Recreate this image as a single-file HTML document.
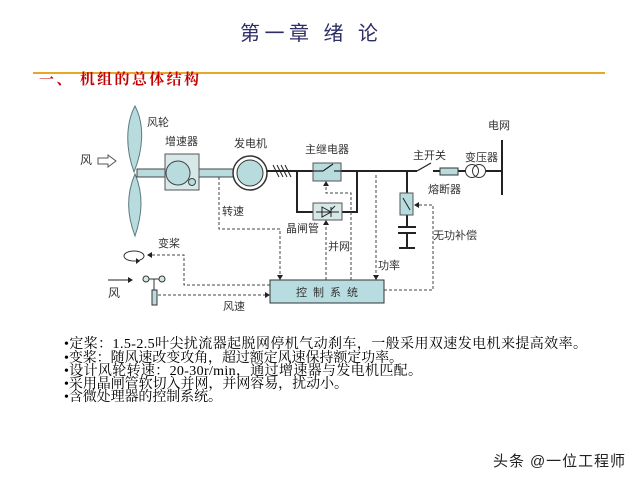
<!DOCTYPE html>
<html><head><meta charset="utf-8"><style>
html,body{margin:0;padding:0;background:#fff;}
svg{display:block;}
</style></head><body>
<svg width="640" height="480" viewBox="0 0 640 480" xmlns="http://www.w3.org/2000/svg">
<rect width="640" height="480" fill="#fff"/>
<!-- Title -->
<text x="240" y="40" font-family="Liberation Sans, Noto Sans CJK SC, sans-serif" font-size="20" fill="#2e2e66" textLength="138" lengthAdjust="spacing">第一章 绪  论</text>
<rect x="33" y="72" width="572" height="2" fill="#e6a826"/>
<text x="39" y="84" font-family="Liberation Serif, Noto Serif CJK SC, serif" font-size="15" font-weight="bold" fill="#c40000" textLength="160" lengthAdjust="spacing">一、 机组的总体结构</text>

<g font-family="Liberation Sans, Noto Sans CJK SC, sans-serif" font-size="11" fill="#333">
<text x="80" y="164" font-size="12">风</text>
<text x="147" y="126">风轮</text>
<text x="165" y="145">增速器</text>
<text x="234" y="147">发电机</text>
<text x="222" y="215">转速</text>
<text x="305" y="153">主继电器</text>
<text x="286" y="232">晶闸管</text>
<text x="328" y="250">并网</text>
<text x="378" y="269">功率</text>
<text x="413" y="159">主开关</text>
<text x="465" y="161">变压器</text>
<text x="488" y="129">电网</text>
<text x="428" y="193">熔断器</text>
<text x="433" y="239">无功补偿</text>
<text x="158" y="247">变桨</text>
<text x="108" y="297" font-size="12">风</text>
<text x="223" y="310">风速</text>
</g>

<!-- wind arrow outline -->
<path d="M98,158 L108,158 L108,155 L116,161 L108,167 L108,164 L98,164 Z" fill="#fff" stroke="#555" stroke-width="1"/>

<!-- blades -->
<path d="M135,106 C125,125 126,150 134,172 C143,150 145,125 135,106 Z" fill="#b8dcde" stroke="#5a7a80" stroke-width="1"/>
<path d="M135,174 C126,195 127,215 135,236 C142,215 144,195 135,174 Z" fill="#b8dcde" stroke="#5a7a80" stroke-width="1"/>

<!-- shafts -->
<rect x="137" y="169" width="28" height="8" fill="#b8dcde" stroke="#444" stroke-width="1"/>
<rect x="199" y="169" width="34" height="8" fill="#b8dcde" stroke="#444" stroke-width="1"/>
<!-- gearbox -->
<rect x="165" y="154" width="34" height="36" fill="#d6e8e8" stroke="#555" stroke-width="1"/>
<circle cx="178" cy="173" r="12" fill="#b8dcde" stroke="#444" stroke-width="1"/>
<circle cx="192" cy="182" r="3.5" fill="#b8dcde" stroke="#444" stroke-width="1"/>
<!-- generator -->
<circle cx="250" cy="173" r="17" fill="#fff" stroke="#333" stroke-width="1.5"/>
<circle cx="250" cy="173" r="13" fill="#b8dcde" stroke="#333" stroke-width="1"/>

<!-- main line -->
<g stroke="#222" stroke-width="2" fill="none">
<line x1="267" y1="171" x2="417" y2="171"/>
<line x1="417" y1="171" x2="431" y2="163" stroke-width="1.2"/>
<line x1="433" y1="171" x2="440" y2="171"/>
<line x1="458" y1="171" x2="466" y2="171"/>
<line x1="486" y1="171" x2="502" y2="171"/>
<line x1="502" y1="140" x2="502" y2="195"/>
<polyline points="297,171 297,212 313,212"/>
<polyline points="342,212 357,212 357,171"/>
<line x1="407" y1="171" x2="407" y2="193"/>
<line x1="407" y1="215" x2="407" y2="227"/>
<line x1="398" y1="227" x2="416" y2="227"/>
<line x1="398" y1="233" x2="416" y2="233"/>
<line x1="407" y1="233" x2="407" y2="248"/>
<line x1="399" y1="248" x2="415" y2="248"/>
</g>
<!-- hash marks -->
<g stroke="#222" stroke-width="1">
<line x1="273" y1="165" x2="279" y2="177"/>
<line x1="277" y1="165" x2="283" y2="177"/>
<line x1="281" y1="165" x2="287" y2="177"/>
<line x1="285" y1="165" x2="291" y2="177"/>
</g>
<!-- fuse -->
<rect x="440" y="168" width="18" height="7" fill="#b8dcde" stroke="#333" stroke-width="1"/>
<!-- transformer -->
<circle cx="472" cy="171" r="6.5" fill="#fff" stroke="#333" stroke-width="1"/>
<circle cx="479" cy="171" r="6.5" fill="none" stroke="#333" stroke-width="1"/>

<!-- relay box -->
<rect x="313" y="163" width="28" height="18" fill="#b8dcde" stroke="#555" stroke-width="1"/>
<g stroke="#222" stroke-width="1.2">
<line x1="313" y1="171" x2="323" y2="171"/>
<line x1="323" y1="171" x2="333" y2="164"/>
<line x1="334" y1="171" x2="341" y2="171"/>
</g>
<!-- thyristor -->
<rect x="313" y="203" width="29" height="17" fill="#d6e8e8" stroke="#555" stroke-width="1"/>
<g stroke="#222" stroke-width="1" fill="none">
<line x1="316" y1="212" x2="339" y2="212"/>
<path d="M322,207 L331,212 L322,217 Z"/>
<line x1="331" y1="207" x2="331" y2="217"/>
<line x1="331" y1="210" x2="335" y2="206"/>
</g>
<!-- comp box -->
<rect x="400" y="193" width="13" height="22" fill="#b8dcde" stroke="#555" stroke-width="1"/>
<line x1="403" y1="198" x2="410" y2="210" stroke="#222" stroke-width="1"/>

<!-- control box -->
<rect x="270" y="280" width="114" height="23" fill="#b8dde0" stroke="#333" stroke-width="1"/>
<text x="296" y="296" font-family="Liberation Sans, Noto Sans CJK SC, sans-serif" font-size="11" fill="#333" textLength="62" lengthAdjust="spacing">控制系统</text>

<!-- dashed lines -->
<g stroke="#444" stroke-width="1" stroke-dasharray="3,2" fill="none">
<polyline points="219,177 219,229 280,229 280,276"/>
<polyline points="270,285 184,285 184,255 152,255"/>
<line x1="158" y1="295" x2="265" y2="295"/>
<line x1="326" y1="280" x2="326" y2="224"/>
<polyline points="351,280 351,193 326,193 326,186"/>
<line x1="376" y1="175" x2="376" y2="276"/>
<polyline points="384,290 433,290 433,205 419,205"/>
</g>
<!-- arrowheads -->
<g fill="#222">
<path d="M277,275 L283,275 L280,280 Z"/>
<path d="M152,252 L152,258 L147,255 Z"/>
<path d="M265,292 L265,298 L270,295 Z"/>
<path d="M323,225 L329,225 L326,220 Z"/>
<path d="M323,186 L329,186 L326,181 Z"/>
<path d="M373,275 L379,275 L376,280 Z"/>
<path d="M419,202 L419,208 L414,205 Z"/>
</g>

<!-- pitch ellipse -->
<ellipse cx="134" cy="256" rx="10" ry="5" fill="#fff" stroke="#333" stroke-width="1"/>
<path d="M136,258 L140,261 L136,264 Z" fill="#222"/>
<!-- lower wind arrow -->
<line x1="108" y1="280" x2="128" y2="280" stroke="#222" stroke-width="1"/>
<path d="M128,277 L133,280 L128,283 Z" fill="#222"/>
<!-- anemometer -->
<line x1="146" y1="279" x2="162" y2="279" stroke="#333" stroke-width="1"/>
<line x1="154" y1="279" x2="154" y2="290" stroke="#333" stroke-width="1"/>
<circle cx="146" cy="279" r="3" fill="#d6e8e8" stroke="#333" stroke-width="1"/>
<circle cx="162" cy="279" r="3" fill="#d6e8e8" stroke="#333" stroke-width="1"/>
<rect x="152" y="290" width="5" height="15" fill="#b8dcde" stroke="#333" stroke-width="1"/>

<!-- body text -->
<g font-family="Liberation Serif, Noto Serif CJK SC, serif" font-size="14" fill="#000">
<text x="64" y="348" textLength="523" lengthAdjust="spacing">•定桨：1.5-2.5叶尖扰流器起脱网停机气动刹车，一般采用双速发电机来提高效率。</text>
<text x="64" y="362" textLength="339" lengthAdjust="spacing">•变桨：随风速改变攻角，超过额定风速保持额定功率。</text>
<text x="64" y="375" textLength="358" lengthAdjust="spacing">•设计风轮转速：20-30r/min，通过增速器与发电机匹配。</text>
<text x="64" y="388" textLength="284" lengthAdjust="spacing">•采用晶闸管软切入并网，并网容易，扰动小。</text>
<text x="64" y="401" textLength="158" lengthAdjust="spacing">•含微处理器的控制系统。</text>
</g>

<!-- watermark -->
<text x="493" y="466" font-family="Liberation Sans, Noto Sans CJK SC, sans-serif" font-size="15" fill="#222" textLength="132" lengthAdjust="spacing">头条 @一位工程师</text>
</svg>
</body></html>
